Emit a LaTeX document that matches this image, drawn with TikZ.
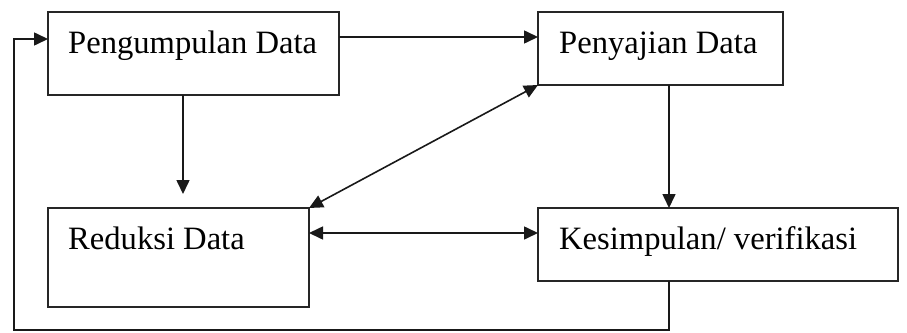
\documentclass[tikz,border=0pt]{standalone}
\usepackage{fontspec}
\setmainfont{Liberation Serif}
\usetikzlibrary{arrows.meta}
\begin{document}
\begin{tikzpicture}[x=1pt,y=-1pt,
  box/.style={draw=black!85,line width=1.7pt,inner sep=0pt,outer sep=0pt,rectangle},
  lbl/.style={anchor=base west,inner sep=0pt,font=\fontsize{32.6}{38}\selectfont},
  conn/.style={draw=black!90,line width=1.6pt},
  tip/.style={},
  arr/.style={conn,-{Triangle[length=14pt,width=13pt]}},
  darr/.style={conn,{Triangle[length=14pt,width=13pt]}-{Triangle[length=14pt,width=13pt]}}]
\useasboundingbox (0,0) rectangle (907,332);
\node[box,minimum width=291pt,minimum height=83pt] (P) at (193.5,53.5) {};
\node[box,minimum width=245pt,minimum height=73pt] (S) at (660.5,48.5) {};
\node[box,minimum width=261pt,minimum height=99pt] (R) at (178.5,257.5) {};
\node[box,minimum width=360pt,minimum height=73pt] (K) at (718,244.5) {};
\node[lbl] (Pt) at (68,53) {Pengumpulan Data};
\node[lbl] (St) at (559,53) {Penyajian Data};
\node[lbl] (Rt) at (68,249) {Reduksi Data};
\node[lbl] (Kt) at (559,249) {Kesimpulan/ verifikasi};
\coordinate (PRtip) at (183,194);
\coordinate (loopA) at (14,330);
\draw[arr] (P.east |- 0,37) -- (S.west |- 0,37);
\draw[arr] (P.south -| PRtip) -- (PRtip);
\draw[arr] (S.south -| 669,0) -- (K.north -| 669,0);
\draw[darr] (R.north east) -- (S.south west);
\draw[darr] (R.east |- 0,233) -- (K.west |- 0,233);
\draw[arr] (K.south -| 669,0) |- (loopA) |- (P.west |- 0,39);
\end{tikzpicture}
\end{document}
